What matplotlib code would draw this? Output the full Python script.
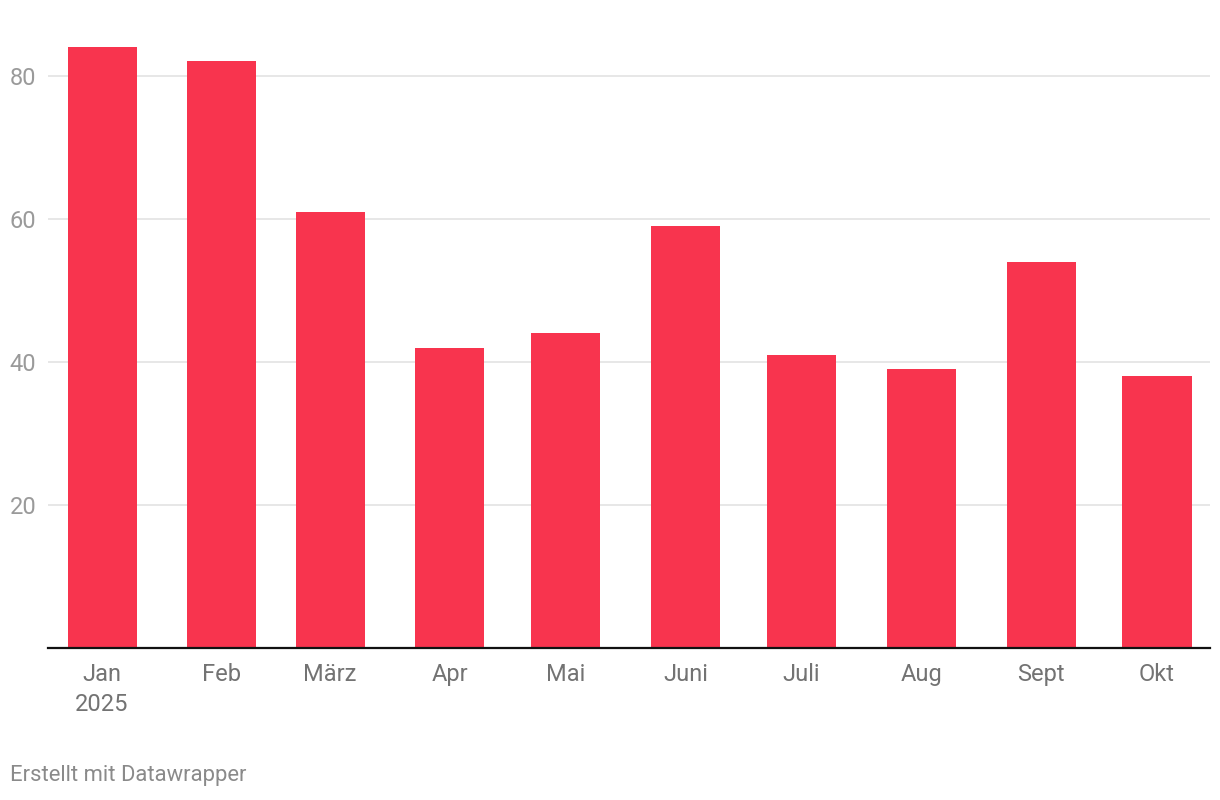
import numpy as np
import matplotlib.pyplot as plt

months = ["Jan", "Feb", "März", "Apr", "Mai", "Juni", "Juli", "Aug", "Sept", "Okt"]
year_label = "2025"
day_offsets = [0, 31, 59, 90, 120, 151, 181, 212, 243, 273]  # days since 1 Jan 2025
values = [84, 82, 61, 42, 44, 59, 41, 39, 54, 38]
y_ticks = [20, 40, 60, 80]

plt.rcParams['font.family'] = ['Roboto', 'DejaVu Sans']

fig = plt.figure(figsize=(12.2, 8), dpi=100)
ax = fig.add_axes([48 / 1220, 1 - 648 / 800, (1210 - 48) / 1220, (648 - 30) / 800])

ax.bar(day_offsets, values, width=17.9, color='#f8344e', zorder=2)

ax.set_xlim(-14, 286.7)
ax.set_ylim(0, 86.4)

ax.set_yticks(y_ticks)
ax.set_yticklabels([str(v) for v in y_ticks])
ax.yaxis.grid(True, color='#e3e3e3', linewidth=1.2, zorder=0)
ax.tick_params(axis='y', length=0, pad=8.5, labelsize=17, labelcolor='#9a9a9a')

ax.set_xticks(day_offsets)
# baseline alignment keeps labels level regardless of descenders
ax.set_xticklabels(months, va='baseline')
ax.tick_params(axis='x', length=0, pad=24, labelsize=17, labelcolor='#737373')

# year below the first month label
ax.annotate(year_label, xy=(day_offsets[0], 0), xycoords='data',
            xytext=(0, -(24 + 21.5)), textcoords='offset points',
            ha='center', va='baseline', fontsize=17, color='#737373',
            annotation_clip=False)

for side in ['top', 'right', 'left']:
    ax.spines[side].set_visible(False)
ax.spines['bottom'].set_color('#111111')
ax.spines['bottom'].set_linewidth(1.6)
ax.spines['bottom'].set_zorder(3)

fig.text(10 / 1220, 1 - 776 / 800, 'Erstellt mit Datawrapper', fontsize=15.8,
         color='#8a8a8a', va='center', ha='left')

plt.savefig('out.png', dpi=100)
